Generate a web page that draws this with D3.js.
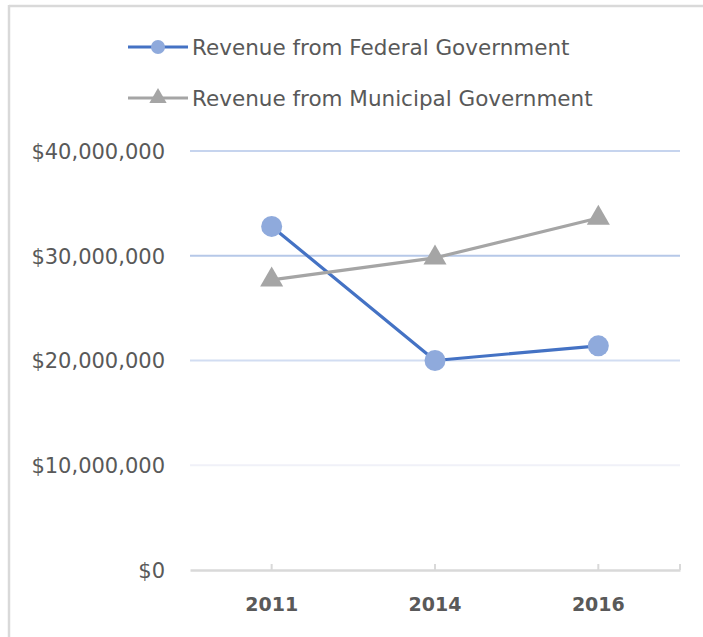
<!DOCTYPE html>
<html>
<head>
<meta charset="utf-8">
<script src="https://cdn.jsdelivr.net/npm/d3@7"></script>
<style>
    body { margin: 0; background: #fff; }
    svg { display: block; }
    text { font-family: "DejaVu Sans", sans-serif; fill: #595959; }
</style>
</head>
<body>
<svg id="chart"></svg>
<script>
const years = ['2011', '2014', '2016'];
const federal = [32800000, 20000000, 21400000];
const municipal = [27700000, 29800000, 33600000];
const yTicks = [0, 10000000, 20000000, 30000000, 40000000];
const gridColors = ['#d9d9d9', '#f0f1f8', '#d2ddf2', '#b6c8e8', '#c6d4ee'];

const series = [
    { name: 'Revenue from Federal Government', values: federal, line: '#4472c4', fill: '#8faadc', shape: 'circle' },
    { name: 'Revenue from Municipal Government', values: municipal, line: '#a5a5a5', fill: '#a5a5a5', shape: 'triangle' }
];

const width = 703, height = 637;
const svg = d3.select('#chart').attr('width', width).attr('height', height);

// outer frame (only top and left edges visible)
svg.append('line').attr('x1', 9).attr('x2', width).attr('y1', 6).attr('y2', 6)
    .attr('stroke', '#d9d9d9').attr('stroke-width', 2.5);
svg.append('line').attr('x1', 9).attr('x2', 9).attr('y1', 5).attr('y2', height)
    .attr('stroke', '#d9d9d9').attr('stroke-width', 2.5);

const plot = { left: 190, right: 680, top: 151, bottom: 570 };

const x = d3.scaleBand().domain(years).range([plot.left, plot.right]);
const y = d3.scaleLinear().domain([0, 40000000]).range([plot.bottom, plot.top]);
const fmt = v => '$' + d3.format(',')(v);

// gridlines
svg.append('g').selectAll('line')
    .data(yTicks.filter(d => d > 0))
    .join('line')
    .attr('x1', plot.left).attr('x2', plot.right)
    .attr('y1', d => y(d)).attr('y2', d => y(d))
    .attr('stroke', d => gridColors[yTicks.indexOf(d)])
    .attr('stroke-width', 2);

// y labels
const yAxis = svg.append('g')
    .attr('transform', `translate(${plot.left},0)`)
    .call(d3.axisLeft(y).tickValues(yTicks).tickFormat(fmt).tickSize(0).tickPadding(25));
yAxis.select('.domain').remove();
yAxis.selectAll('text')
    .style('font-size', '21px')
    .attr('dy', '0.35em');

// x axis
const xAxis = svg.append('g')
    .attr('transform', `translate(0,${plot.bottom})`)
    .call(d3.axisBottom(x).tickSize(0).tickPadding(28));
xAxis.select('.domain').attr('stroke', '#d9d9d9').attr('stroke-width', 2.5);
xAxis.selectAll('text')
    .style('font-size', '19px')
    .style('font-weight', 'bold');
const tickPos = years.map(d => x(d) + x.bandwidth() / 2).concat([plot.right]);
xAxis.selectAll('.tickmark')
    .data(tickPos)
    .join('line')
    .attr('class', 'tickmark')
    .attr('x1', d => d).attr('x2', d => d)
    .attr('y1', -6).attr('y2', 0)
    .attr('stroke', '#d9d9d9').attr('stroke-width', 2);

const cx = d => x(d) + x.bandwidth() / 2;

function drawMarker(g, s, px, py, small) {
    if (s.shape === 'circle') {
        g.append('circle').attr('cx', px).attr('cy', py).attr('r', small ? 7 : 10.5).attr('fill', s.fill);
    } else {
        const tri = d3.symbol().type(d3.symbolTriangle).size(small ? 130 : 230);
        g.append('path').attr('d', tri).attr('transform', `translate(${px},${py})`).attr('fill', s.fill);
    }
}

// series lines + markers
series.forEach(s => {
    const g = svg.append('g');
    const line = d3.line().x((d, i) => cx(years[i])).y(d => y(d));
    g.append('path')
        .attr('d', line(s.values))
        .attr('fill', 'none')
        .attr('stroke', s.line)
        .attr('stroke-width', 3.2)
        .attr('stroke-linejoin', 'round');
    s.values.forEach((v, i) => drawMarker(g, s, cx(years[i]), y(v), false));
});

// legend
const legend = svg.append('g');
series.forEach((s, i) => {
    const ly = 47 + i * 51;
    const g = legend.append('g');
    g.append('line').attr('x1', 128).attr('x2', 188).attr('y1', ly).attr('y2', ly)
        .attr('stroke', s.line).attr('stroke-width', 3.2);
    drawMarker(g, s, 158, ly, true);
    g.append('text').attr('x', 192).attr('y', ly).attr('dy', '0.35em')
        .style('font-size', '21.5px').text(s.name);
});
</script>
</body>
</html>
